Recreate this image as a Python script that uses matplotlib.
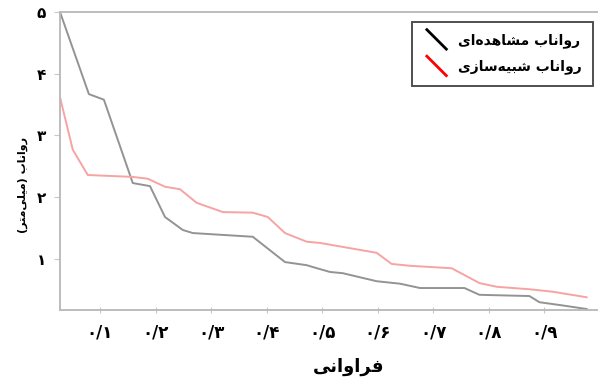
import matplotlib
matplotlib.use('Agg')
import matplotlib.pyplot as plt
from matplotlib.legend_handler import HandlerBase
from matplotlib.lines import Line2D

# exceedance probability vs runoff depth (mm)
obs_x = [0.028, 0.080, 0.107, 0.159, 0.190, 0.217, 0.249, 0.267, 0.375, 0.433, 0.472,
         0.483, 0.514, 0.537, 0.598, 0.640, 0.676, 0.756, 0.783, 0.873, 0.891, 0.931, 0.976]
obs_y = [5.00, 3.67, 3.58, 2.23, 2.18, 1.68, 1.47, 1.42, 1.36, 0.95, 0.90,
         0.87, 0.79, 0.77, 0.64, 0.60, 0.53, 0.53, 0.42, 0.40, 0.30, 0.25, 0.19]

sim_x = [0.028, 0.051, 0.078, 0.158, 0.186, 0.217, 0.244, 0.274, 0.321, 0.375, 0.402, 0.433,
         0.472, 0.496, 0.598, 0.625, 0.658, 0.733, 0.783, 0.814, 0.873, 0.915, 0.976]
sim_y = [3.62, 2.77, 2.36, 2.33, 2.30, 2.17, 2.13, 1.91, 1.76, 1.75, 1.68, 1.42,
         1.28, 1.26, 1.10, 0.92, 0.89, 0.85, 0.61, 0.55, 0.51, 0.47, 0.38]

x_ticks = [0.1, 0.2, 0.3, 0.4, 0.5, 0.6, 0.7, 0.8, 0.9]
x_tick_labels = ['۰/۱', '۰/۲', '۰/۳', '۰/۴', '۰/۵', '۰/۶', '۰/۷', '۰/۸', '۰/۹']
y_ticks = [1, 2, 3, 4, 5]
y_tick_labels = ['۱', '۲', '۳', '۴', '۵']

label_obs = 'رواناب مشاهده\u200cای'
label_sim = 'رواناب شبیه\u200cسازی'
x_title = 'فراوانی'
y_title = 'رواناب (میلی\u200cمتر)'

# matplotlib has no Arabic shaping, so pick presentation forms by hand
# (isolated, final, initial, medial)
FORMS = {
    'ا': (0xFE8D, 0xFE8E), 'د': (0xFEA9, 0xFEAA), 'ر': (0xFEAD, 0xFEAE),
    'ز': (0xFEAF, 0xFEB0), 'و': (0xFEED, 0xFEEE),
    'ب': (0xFE8F, 0xFE90, 0xFE91, 0xFE92), 'ت': (0xFE95, 0xFE96, 0xFE97, 0xFE98),
    'س': (0xFEB1, 0xFEB2, 0xFEB3, 0xFEB4), 'ش': (0xFEB5, 0xFEB6, 0xFEB7, 0xFEB8),
    'ف': (0xFED1, 0xFED2, 0xFED3, 0xFED4), 'ل': (0xFEDD, 0xFEDE, 0xFEDF, 0xFEE0),
    'م': (0xFEE1, 0xFEE2, 0xFEE3, 0xFEE4), 'ن': (0xFEE5, 0xFEE6, 0xFEE7, 0xFEE8),
    'ه': (0xFEE9, 0xFEEA, 0xFEEB, 0xFEEC), 'ی': (0xFBFC, 0xFBFD, 0xFBFE, 0xFBFF),
}
MIRROR = {'(': ')', ')': '('}


def shape(text):
    out = []
    for i, ch in enumerate(text):
        if ch not in FORMS:
            if ch != '\u200c':
                out.append(MIRROR.get(ch, ch))
            continue
        prev = text[i - 1] if i > 0 else ''
        nxt = text[i + 1] if i + 1 < len(text) else ''
        join_prev = prev in FORMS and len(FORMS[prev]) == 4
        join_next = len(FORMS[ch]) == 4 and nxt in FORMS
        forms = FORMS[ch]
        if join_prev and join_next:
            code = forms[3]
        elif join_prev:
            code = forms[1]
        elif join_next:
            code = forms[2]
        else:
            code = forms[0]
        out.append(chr(code))
    return ''.join(reversed(out))


class DiagonalHandler(HandlerBase):
    def create_artists(self, legend, orig_handle, xdescent, ydescent,
                       width, height, fontsize, trans):
        x0, y0 = -xdescent, -ydescent
        line = Line2D([x0 + width * 0.15, x0 + width * 0.85],
                      [y0 + height * 1.5, y0 - height * 0.5],
                      color=orig_handle.get_color(), lw=2.0)
        line.set_transform(trans)
        return [line]


plt.rcParams['font.family'] = ['DejaVu Sans']
plt.rcParams['font.weight'] = 'bold'

fig = plt.figure(figsize=(5.98, 3.8), dpi=100)
ax = fig.add_axes([60 / 598, 70 / 380, 540 / 598, 298 / 380])

ax.plot(obs_x, obs_y, color='#939393', lw=1.4)
ax.plot(sim_x, sim_y, color='#f7a3a3', lw=1.4)

ax.set_xlim(0.028, 1.0)
ax.set_ylim(0.174, 5.0)
ax.set_xticks(x_ticks)
ax.set_xticklabels(x_tick_labels, fontsize=12, fontweight='bold')
ax.set_yticks(y_ticks)
ax.set_yticklabels(y_tick_labels, fontsize=11, fontweight='bold')
ax.tick_params(axis='x', direction='inout', length=4, color='#c8c8c8', pad=8)
ax.tick_params(axis='y', direction='out', length=4, color='#c8c8c8', pad=6)

for side in ('left', 'bottom', 'top'):
    ax.spines[side].set_color('#b8b8b8')
    ax.spines[side].set_linewidth(1.3)
ax.spines['right'].set_visible(False)

ax.set_xlabel(shape(x_title), fontsize=13, fontweight='bold')
ax.xaxis.set_label_coords(0.535, -0.16)
ax.set_ylabel(shape(y_title), fontsize=8, fontweight='bold')
ax.yaxis.set_label_coords(-0.06, 0.42)

handles = [Line2D([], [], color='black'), Line2D([], [], color='red')]
leg = ax.legend(handles, [shape(label_obs), shape(label_sim)],
                handler_map={Line2D: DiagonalHandler()},
                loc='upper right', bbox_to_anchor=(0.987, 0.966),
                borderaxespad=0, fontsize=10, frameon=True, fancybox=False,
                handlelength=2.0, handletextpad=0.55, borderpad=0.8,
                labelspacing=0.85)
leg.get_frame().set_edgecolor('#222222')
leg.get_frame().set_linewidth(1.4)

fig.savefig('out.png', dpi=100)
